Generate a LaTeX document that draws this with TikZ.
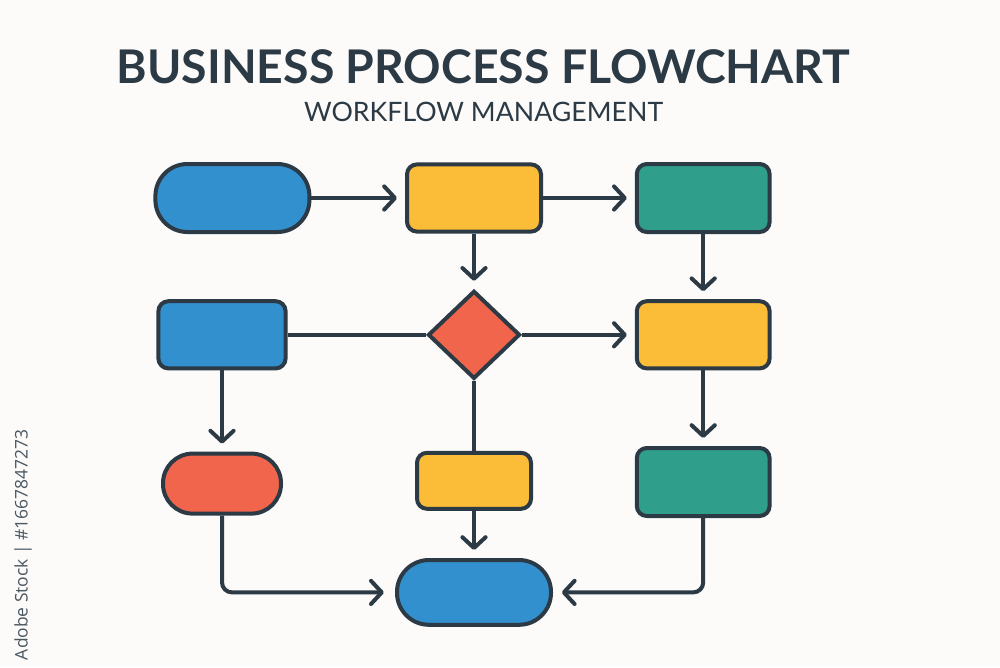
\documentclass[tikz,border=0pt]{standalone}
\usepackage{fontspec}
\setmainfont{Open Sans}
\newfontfamily\headfont{Lato}
\usepackage{tikz}
\usetikzlibrary{positioning,arrows.meta,shapes.geometric}

\definecolor{inkline}{HTML}{2B3A45}
\definecolor{paperbg}{HTML}{FCFBF9}
\definecolor{flowblue}{HTML}{3290CE}
\definecolor{flowyellow}{HTML}{FBBC38}
\definecolor{flowteal}{HTML}{2F9E8B}
\definecolor{flowred}{HTML}{F0654B}

\tikzset{
  boxnode/.style={draw=inkline,line width=0.1cm,rounded corners=0.25cm,inner sep=0pt},
  pillnode/.style={boxnode,rounded corners=0.8cm},
}

\begin{document}
\begin{tikzpicture}[node distance=5cm,on grid,line width=0.1cm,draw=inkline,
  >={Straight Barb[length=0.27cm,width=0.58cm,round]},shorten >=0.2cm]
\fill[paperbg] (0,0) rectangle (25,-16.675);
\useasboundingbox (0,0) rectangle (25,-16.675);

\node[text=inkline,font=\headfont\bfseries\fontsize{33}{36}\selectfont] (title) at (12.09,-1.68) {BUSINESS PROCESS FLOWCHART};
\node[text=inkline,font=\headfont\fontsize{19}{22}\selectfont] (subtitle) [below=1.13cm of title] {WORKFLOW MANAGEMENT};
\node[text=inkline!85,rotate=90,anchor=east,font=\fontsize{12.4}{14}\selectfont] (stockid) at (0.58,-10.57) {Adobe Stock | \#1667847273};

% top row
\node[pillnode,fill=flowblue,minimum width=3.85cm,minimum height=1.7cm] (start) at (5.81,-4.95) {};
\node[boxnode,fill=flowyellow,minimum width=3.35cm,minimum height=1.68cm] (checkbox) [right=6.04cm of start] {};
\node[boxnode,fill=flowteal,minimum width=3.32cm,minimum height=1.7cm] (tealtop) [right=5.73cm of checkbox] {};

% middle row
\node[diamond,draw=inkline,line width=0.1cm,fill=flowred,inner sep=0pt,minimum width=2.3cm,minimum height=2.2cm] (decide) [below=3.42cm of checkbox] {};
\node[boxnode,fill=flowblue,minimum width=3.18cm,minimum height=1.68cm] (leftbox) [left=6.3cm of decide] {};
\node[boxnode,fill=flowyellow,minimum width=3.32cm,minimum height=1.68cm] (rightbox) [below=3.42cm of tealtop] {};

% bottom row
\node[pillnode,fill=flowred,minimum width=2.95cm,minimum height=1.5cm,rounded corners=0.74cm] (redpill) [below=3.72cm of leftbox] {};
\node[boxnode,fill=flowyellow,minimum width=2.85cm,minimum height=1.4cm] (lowbox) [below=3.65cm of decide] {};
\node[boxnode,fill=flowteal,minimum width=3.32cm,minimum height=1.7cm] (tealbot) [below=3.68cm of rightbox] {};
\node[pillnode,fill=flowblue,minimum width=3.85cm,minimum height=1.62cm] (finish) [below=2.79cm of lowbox] {};

\path[->]
(start) edge (checkbox)
(checkbox) edge (tealtop)
(checkbox) edge (decide)
(tealtop) edge (rightbox)
(leftbox) edge [-,shorten >=0pt] (decide)
(decide) edge (rightbox)
(leftbox) edge (redpill)
(rightbox) edge (tealbot)
(decide) edge [-,shorten >=0pt] (lowbox)
(lowbox) edge (finish)
; %end path
\draw[->,rounded corners=0.25cm,shorten >=0.28cm] (redpill) |- (finish);
\draw[->,rounded corners=0.25cm,shorten >=0.22cm] (tealbot) |- (finish);
\end{tikzpicture}
\end{document}
